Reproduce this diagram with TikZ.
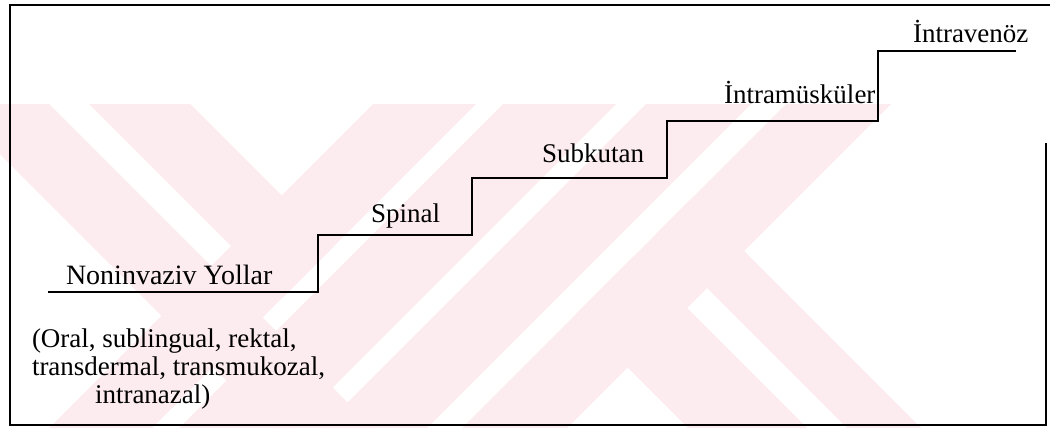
\documentclass[tikz,border=0pt]{standalone}
\usepackage{fontspec}
\setmainfont{Liberation Serif}
\definecolor{wm}{RGB}{252,235,239}
\begin{document}
\begin{tikzpicture}[x=1pt,y=-1pt,
  lbl/.style={anchor=base west,inner sep=0pt,outer sep=0pt,font=\fontsize{27}{29}\selectfont},
  stair/.style={line width=2pt,line join=miter},
  frame/.style={line width=2pt},
  wmark/.style={fill=wm,draw=none}]
\useasboundingbox (0,0) rectangle (1056,428);
% faint watermark
\begin{scope}
\clip (0,104) rectangle (1056,428);
\fill[wmark] (-50,104) -- (49,104) -- (373,428) -- (274,428) -- cycle;
\fill[wmark] (89,104) -- (190,104) -- (333,247) -- (282.5,297.5) -- cycle;
\fill[wmark] (373,104) -- (476,104) -- (152,428) -- (49,428) -- cycle;
\fill[wmark] (503,104) -- (616,104) -- (292,428) -- (179,428) -- cycle;
\fill[wmark] (646,104) -- (751,104) -- (427,428) -- (322,428) -- cycle;
\fill[wmark] (786,104) -- (891,104) -- (567,428) -- (462,428) -- cycle;
\fill[wmark] (575,315) -- (634.5,255.5) -- (807,428) -- (688,428) -- cycle;
\fill[wmark] (654.5,235.5) -- (691.5,198.5) -- (921,428) -- (847,428) -- cycle;
\end{scope}
% frame
\draw[frame] (1046,143) -- (1046,425) -- (10,425) -- (10,5) -- (1050,5);
% staircase
\coordinate (s0) at (48,292);
\coordinate (s1) at (318,292);
\coordinate (s2) at (318,235);
\coordinate (s3) at (472,235);
\coordinate (s4) at (472,178);
\coordinate (s5) at (667,178);
\coordinate (s6) at (667,121);
\coordinate (s7) at (878,121);
\coordinate (s8) at (878,51);
\coordinate (s9) at (1016,51);
\draw[stair] (s0) -- (s1) -- (s2) -- (s3) -- (s4) -- (s5) -- (s6) -- (s7) -- (s8) -- (s9);
% labels
\node[lbl,font=\fontsize{28}{30}\selectfont] (noninv) at (66,284) {Noninvaziv Yollar};
\node[lbl] (spinal) at (371,222) {Spinal};
\node[lbl] (subk) at (542,162) {Subkutan};
\node[lbl] (im) at (724,103) {İntramüsküler};
\node[lbl] (iv) at (913,42) {İntravenöz};
\node[lbl] (p1) at (32,347) {(Oral, sublingual, rektal,};
\node[lbl] (p2) at (32,375) {transdermal, transmukozal,};
\node[lbl] (p3) at (95,403) {intranazal)};
\end{tikzpicture}
\end{document}
